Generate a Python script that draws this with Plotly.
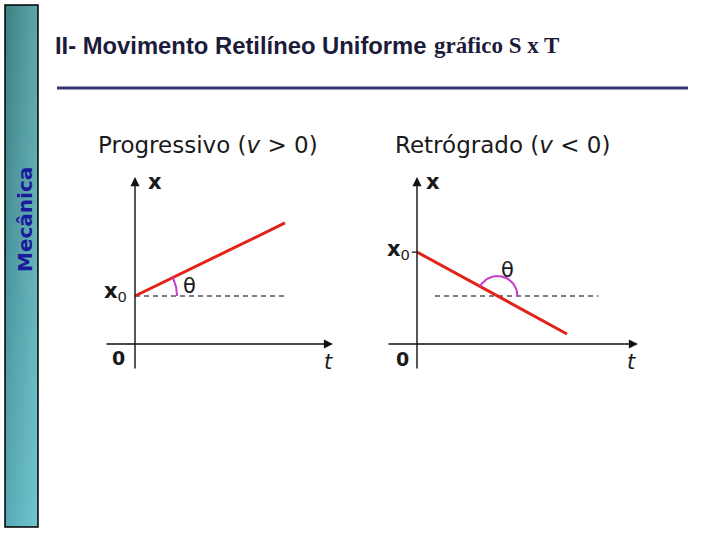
import numpy as np
import plotly.graph_objects as go

# ---------------- data ----------------
# Progressive motion (v > 0)
t_prog = [0, 10]
x_prog = [3.2, 8.07]
dash_prog_t = [0, 10.1]
# Retrograde motion (v < 0)
t_retro = [0, 10]
x_retro = [6.13, 0.67]
dash_retro_t = [1.2, 12.1]
x_dash_level = 3.2

panel_titles = ["Progressivo (<i>v</i> > 0)", "Retrógrado (<i>v</i> < 0)"]
header_sans = "<b>II- Movimento Retilíneo Uniforme</b>"
header_serif = "<b>gráfico S x T</b>"
side_label = "Mecânica"

# axis arrow extents (data units): (t_min, t_max, x_min, x_max)
axes_prog = (-2.0, 13.2, -1.73, 11.13)
axes_retro = (-2.0, 14.73, -1.73, 11.13)

RED = "#e2231a"
MAG = "#c43cc8"
INK = "#111111"
TXT = "#1a1a1a"
SANS = "DejaVu Sans"

fig = go.Figure()

# ---------- sidebar (overlay axis in pixel units) ----------
side_x = [5, 38]
side_y = [5, 527]
bands = 52
top_l, top_r = np.array([0x3d, 0x80, 0x82]), np.array([0x5e, 0xa6, 0xa8])
bot_l, bot_r = np.array([0x58, 0xa8, 0xb6]), np.array([0x70, 0xc6, 0xce])
def hexc(c):
    c = np.clip(np.round(c), 0, 255).astype(int)
    return "#%02x%02x%02x" % tuple(c)
edges = np.linspace(side_y[0], side_y[1], bands + 1)
for i in range(bands):
    f = (i + 0.5) / bands
    cl = top_l * (1 - f) + bot_l * f
    cr = top_r * (1 - f) + bot_r * f
    y0, y1 = edges[i], min(edges[i + 1] + 1.0, side_y[1])
    fig.add_trace(go.Scatter(
        x=[side_x[0], side_x[1], side_x[1], side_x[0], side_x[0]],
        y=[y0, y0, y1, y1, y0],
        mode="lines", line=dict(width=0), fill="toself",
        fillgradient=dict(type="horizontal",
                          colorscale=[[0, hexc(cl)], [1, hexc(cr)]]),
        xaxis="x3", yaxis="y3", hoverinfo="skip", showlegend=False))

# ---------- left panel ----------
fig.add_trace(go.Scatter(x=dash_prog_t, y=[x_dash_level] * 2, mode="lines",
                         line=dict(color="#555555", width=1.4, dash="5px,4px"),
                         xaxis="x", yaxis="y", showlegend=False, hoverinfo="skip"))
fig.add_trace(go.Scatter(x=t_prog, y=x_prog, mode="lines",
                         line=dict(color=RED, width=3),
                         xaxis="x", yaxis="y", showlegend=False))
# angle arc (geometric construction from the line slope)
ang_p = np.arctan2(x_prog[1] - x_prog[0], t_prog[1] - t_prog[0])
r_p = 2.8
a = np.linspace(0, ang_p, 20)
fig.add_trace(go.Scatter(x=t_prog[0] + r_p * np.cos(a), y=x_prog[0] + r_p * np.sin(a),
                         mode="lines", line=dict(color=MAG, width=2),
                         xaxis="x", yaxis="y", showlegend=False, hoverinfo="skip"))

# ---------- right panel ----------
fig.add_trace(go.Scatter(x=dash_retro_t, y=[x_dash_level] * 2, mode="lines",
                         line=dict(color="#555555", width=1.4, dash="5px,4px"),
                         xaxis="x2", yaxis="y2", showlegend=False, hoverinfo="skip"))
fig.add_trace(go.Scatter(x=t_retro, y=x_retro, mode="lines",
                         line=dict(color=RED, width=3),
                         xaxis="x2", yaxis="y2", showlegend=False))
slope_r = (x_retro[1] - x_retro[0]) / (t_retro[1] - t_retro[0])
t_int = t_retro[0] + (x_dash_level - x_retro[0]) / slope_r
ang_r = np.pi - np.arctan(abs(slope_r))
r_r = 1.33
a = np.linspace(0, ang_r, 30)
fig.add_trace(go.Scatter(x=t_int + r_r * np.cos(a), y=x_dash_level + r_r * np.sin(a),
                         mode="lines", line=dict(color=MAG, width=2),
                         xaxis="x2", yaxis="y2", showlegend=False, hoverinfo="skip"))
# x0 tick on right axis
fig.add_trace(go.Scatter(x=[-0.35, 0], y=[x_retro[0]] * 2, mode="lines",
                         line=dict(color=INK, width=1.3),
                         xaxis="x2", yaxis="y2", showlegend=False, hoverinfo="skip"))

annotations = []
def arrow(xr, yr, x, y, ax, ay):
    annotations.append(dict(xref=xr, yref=yr, axref=xr, ayref=yr, x=x, y=y, ax=ax, ay=ay,
                            text="", showarrow=True, arrowhead=2, arrowsize=1.3,
                            arrowwidth=1.4, arrowcolor=INK, standoff=0, startstandoff=0))
for (xr, yr, ext) in [("x", "y", axes_prog), ("x2", "y2", axes_retro)]:
    tmin, tmax, xmin, xmax = ext
    arrow(xr, yr, tmax, 0, tmin, 0)
    arrow(xr, yr, 0, xmax, 0, xmin)

def txt(xr, yr, x, y, s, size=19, xa="center", ya="middle", color=TXT, fam=SANS):
    annotations.append(dict(xref=xr, yref=yr, x=x, y=y, text=s, showarrow=False,
                            xanchor=xa, yanchor=ya,
                            font=dict(family=fam, size=size, color=color)))

# left labels
txt("x", "y", 4.87, 13.27, panel_titles[0], size=23)
txt("x", "y", 1.35, 10.8, "<b>x</b>", size=21)
txt("x", "y", -0.4, 3.5, "<b>x</b><sub>0</sub>", size=21, xa="right")
txt("x", "y", 3.65, 3.9, "θ", size=21)
txt("x", "y", -1.07, -0.95, "<b>0</b>", size=19)
txt("x", "y", 12.87, -1.2, "<i>t</i>", size=21)
# right labels
txt("x2", "y2", 5.67, 13.27, panel_titles[1], size=23)
txt("x2", "y2", 1.05, 10.8, "<b>x</b>", size=21)
txt("x2", "y2", -0.35, 6.3, "<b>x</b><sub>0</sub>", size=21, xa="right")
txt("x2", "y2", 6.0, 4.93, "θ", size=21)
txt("x2", "y2", -1.0, -1.0, "<b>0</b>", size=19)
txt("x2", "y2", 14.33, -1.2, "<i>t</i>", size=21)

# header
annotations.append(dict(xref="x3", yref="y3", x=53, y=45, text=header_sans, showarrow=False,
                        xanchor="left", yanchor="middle",
                        font=dict(family="Liberation Sans", size=23.8, color="#1c1c3a")))
annotations.append(dict(xref="x3", yref="y3", x=432, y=45, text=header_serif, showarrow=False,
                        xanchor="left", yanchor="middle",
                        font=dict(family="Liberation Serif", size=23, color="#1c1c3a")))
# side label
annotations.append(dict(xref="x3", yref="y3", x=25, y=220, text="<b>" + side_label + "</b>",
                        showarrow=False, textangle=-90, xanchor="center", yanchor="middle",
                        font=dict(family="DejaVu Sans", size=20, color="#1a1a9c")))

shapes = [
    dict(type="rect", xref="x3", yref="y3", x0=side_x[0], x1=side_x[1], y0=side_y[0], y1=side_y[1],
         line=dict(color="#000000", width=1.5), fillcolor="rgba(0,0,0,0)", layer="above"),
    dict(type="line", xref="x3", yref="y3", x0=57, x1=688, y0=88, y1=88,
         line=dict(color="#343477", width=3)),
]

W, H = 720, 540
def ydom(top_px, bot_px):
    return [(H - bot_px) / H, (H - top_px) / H]

hidden = dict(visible=False, showgrid=False, zeroline=False, fixedrange=True)
fig.update_layout(
    width=W, height=H, margin=dict(l=0, r=0, t=0, b=0),
    paper_bgcolor="white", plot_bgcolor="rgba(0,0,0,0)",
    showlegend=False,
    xaxis=dict(domain=[90 / W, 345 / W], range=[-3, 14], anchor="y", **hidden),
    yaxis=dict(domain=ydom(126.5, 381.5), range=[-2.5, 14.5], anchor="x", **hidden),
    xaxis2=dict(domain=[372 / W, 649.5 / W], range=[-3, 15.5], anchor="y2", **hidden),
    yaxis2=dict(domain=ydom(126.5, 381.5), range=[-2.5, 14.5], anchor="x2", **hidden),
    xaxis3=dict(domain=[0, 1], range=[0, W], anchor="y3", **hidden),
    yaxis3=dict(domain=[0, 1], range=[H, 0], anchor="x3", **hidden),
    annotations=annotations, shapes=shapes,
)
fig.write_html("out.html", config=dict(displayModeBar=False),
               post_script="document.body.style.margin='0px'; document.body.style.overflow='hidden';")
